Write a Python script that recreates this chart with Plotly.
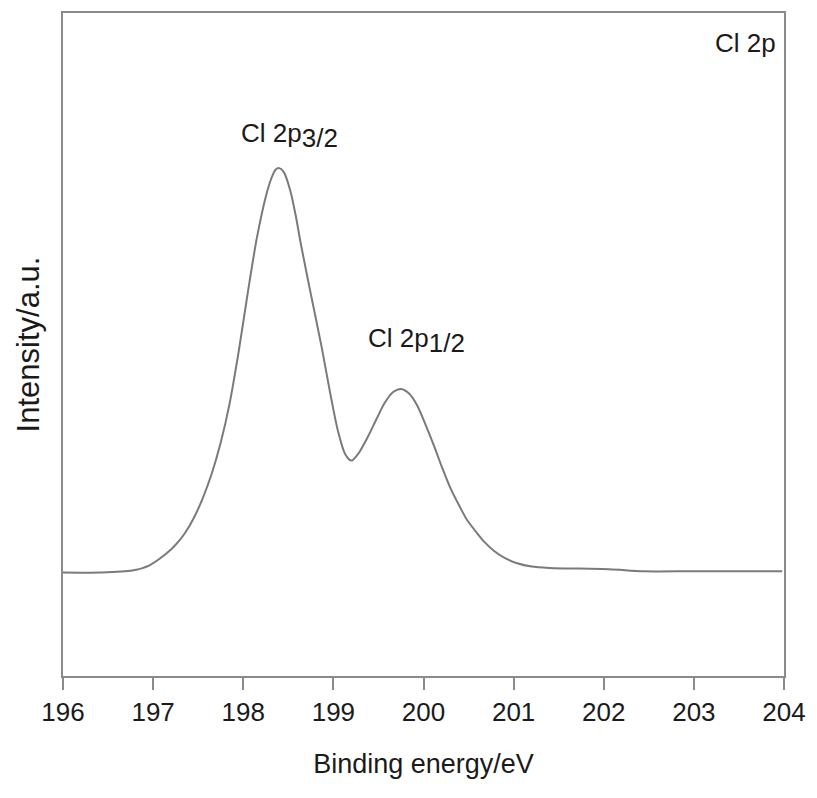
import plotly.graph_objects as go

# Binding energy (eV) and intensity (a.u., arbitrary 0-100 scale)
energy = [196.00, 196.41, 196.77, 196.96, 197.15, 197.25, 197.35, 197.45, 197.55, 197.65,
          197.75, 197.85, 197.95, 198.05, 198.15, 198.25, 198.31, 198.36, 198.40, 198.45,
          198.52, 198.58, 198.64, 198.75, 198.87, 198.96, 199.05, 199.13, 199.20, 199.28,
          199.38, 199.48, 199.57, 199.66, 199.75, 199.84, 199.93, 200.02, 200.12, 200.21,
          200.30, 200.40, 200.48, 200.58, 200.67, 200.78, 200.89, 201.04, 201.20, 201.40,
          202.06, 202.44, 203.00, 203.98]
intensity = [15.6, 15.6, 15.9, 16.7, 18.5, 19.8, 21.5, 23.8, 26.8, 30.5,
             35.2, 41.2, 49.0, 57.8, 66.0, 72.3, 75.0, 76.4, 76.6, 76.0,
             73.3, 69.6, 65.1, 57.6, 49.6, 43.0, 37.0, 33.5, 32.5, 33.6,
             36.0, 38.8, 41.2, 42.8, 43.3, 42.6, 40.8, 38.0, 34.6, 31.3,
             28.3, 25.6, 23.6, 21.8, 20.3, 18.9, 17.9, 17.0, 16.5, 16.3,
             16.1, 15.8, 15.8, 15.8]

x_ticks = [196, 197, 198, 199, 200, 201, 202, 203, 204]

peak_main = ["Cl 2p", "Cl 2p"]
peak_sub = ["3/2", "1/2"]
peak_x = [197.95, 199.36]
peak_y = [84.5, 53.6]

FONT = "Liberation Sans, Arial, Helvetica, sans-serif"
TXT = "#1a1a1a"
FRAME = "#8a8a8a"
ANN_SIZE = 26

fig = go.Figure()
fig.add_trace(go.Scatter(
    x=energy, y=intensity, mode="lines",
    line=dict(color="#7a7a7a", width=2, shape="spline", smoothing=0.8),
    showlegend=False, hoverinfo="skip",
))

for m, s, xx, yy in zip(peak_main, peak_sub, peak_x, peak_y):
    txt = f"{m}<sub><span style='font-size:{ANN_SIZE}px'>{s}</span></sub>"
    fig.add_annotation(x=xx, y=yy, text=txt, showarrow=False, xanchor="left", yanchor="top",
                       font=dict(family=FONT, size=ANN_SIZE, color=TXT))

fig.add_annotation(x=0.992, y=0.98, xref="paper", yref="paper", text="Cl 2p", showarrow=False,
                   xanchor="right", yanchor="top", font=dict(family=FONT, size=ANN_SIZE, color=TXT))

fig.update_layout(
    width=817, height=798,
    margin=dict(l=63, r=28, t=11, b=122),
    paper_bgcolor="white", plot_bgcolor="white",
    font=dict(family=FONT, color=TXT),
    xaxis=dict(
        range=[196, 204], tickvals=x_ticks, ticktext=[str(v) for v in x_ticks],
        ticks="outside", ticklen=12, tickwidth=2, tickcolor=FRAME,
        showline=True, linecolor=FRAME, linewidth=2, mirror=True,
        showgrid=False, zeroline=False, ticklabeloverflow="allow",
        tickfont=dict(family=FONT, size=26, color=TXT),
        title=dict(text="Binding energy/eV", font=dict(family=FONT, size=27, color=TXT), standoff=28),
    ),
    yaxis=dict(
        range=[0, 100], showticklabels=False, ticks="",
        showline=True, linecolor=FRAME, linewidth=2, mirror=True,
        showgrid=False, zeroline=False,
        title=dict(text="Intensity/a.u.", font=dict(family=FONT, size=31, color=TXT), standoff=12),
    ),
)

fig.write_html("out.html")
